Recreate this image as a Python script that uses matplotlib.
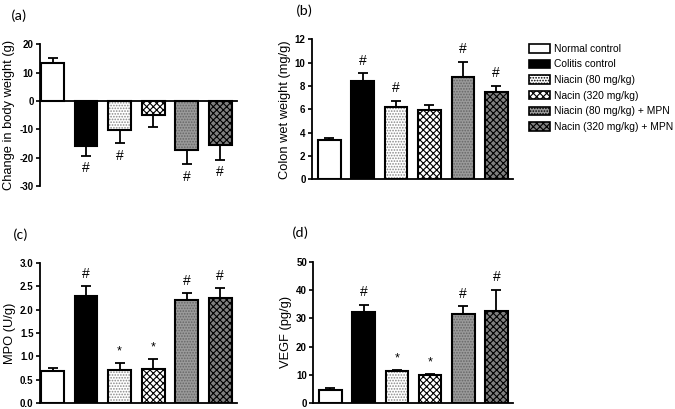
import matplotlib.pyplot as plt
from matplotlib.patches import Patch

plt.rcParams['font.family'] = ['Liberation Sans', 'DejaVu Sans']
plt.rcParams['hatch.linewidth'] = 0.8

groups = ["Normal control", "Colitis control", "Niacin (80 mg/kg)",
          "Nacin (320 mg/kg)", "Niacin (80 mg/kg) + MPN", "Nacin (320 mg/kg) + MPN"]

# (a) change in body weight
bw_mean = [13.3, -16.0, -10.4, -5.0, -17.4, -15.4]
bw_sem = [1.9, 3.3, 4.4, 4.2, 4.8, 5.3]
bw_mark = ["", "#", "#", "", "#", "#"]

# (b) colon wet weight
cw_mean = [3.4, 8.45, 6.2, 5.93, 8.8, 7.5]
cw_sem = [0.17, 0.63, 0.53, 0.46, 1.26, 0.5]
cw_mark = ["", "#", "#", "", "#", "#"]

# (c) MPO
mpo_mean = [0.69, 2.29, 0.71, 0.72, 2.2, 2.26]
mpo_sem = [0.05, 0.21, 0.15, 0.23, 0.15, 0.2]
mpo_mark = ["", "#", "*", "*", "#", "#"]

# (d) VEGF
vegf_mean = [4.75, 32.1, 11.2, 9.9, 31.7, 32.7]
vegf_sem = [0.55, 2.6, 0.6, 0.4, 2.6, 7.3]
vegf_mark = ["", "#", "*", "*", "#", "#"]

faces = ["white", "black", "white", "white", "#9a9a9a", "#808080"]
hatches = [None, None, "......", "xxxxx", "......", "xxxxx"]
hatch_cols = ["black", "black", "#888888", "black", "#666666", "black"]

fig = plt.figure(figsize=(6.75, 4.09), dpi=100)


def panel(rect, means, sems, marks, ylim, yticks, ylabel, letter, lx, xl, fmt):
    ax = fig.add_axes(rect)
    x = list(range(len(means)))
    for i in x:
        ax.bar(i, means[i], width=0.68, color=faces[i], edgecolor=hatch_cols[i],
               hatch=hatches[i], linewidth=0, zorder=2)
        ax.bar(i, means[i], width=0.68, color="none", edgecolor="black",
               linewidth=1.5, zorder=3)
        lo = [[0], [sems[i]]] if means[i] >= 0 else [[sems[i]], [0]]
        ax.errorbar(i, means[i], yerr=lo, color="black", capsize=3.5,
                    elinewidth=1.3, capthick=1.3, zorder=1)
        if marks[i]:
            span = ylim[1] - ylim[0]
            if means[i] >= 0:
                ax.text(i, means[i] + sems[i] + 0.04 * span, marks[i],
                        ha="center", va="bottom", fontsize=10 if marks[i] == "#" else 9)
            else:
                ax.text(i, means[i] - sems[i] - 0.04 * span, marks[i],
                        ha="center", va="top", fontsize=10)
    ax.set_xlim(xl, 5.5)
    ax.set_ylim(*ylim)
    ax.set_yticks(yticks)
    ax.set_yticklabels([fmt.format(t) for t in yticks], fontsize=7, fontweight="bold")
    ax.set_xticks([])
    for s in ["top", "right"]:
        ax.spines[s].set_visible(False)
    ax.spines["left"].set_linewidth(1.3)
    ax.spines["bottom"].set_linewidth(1.3)
    ax.spines["bottom"].set_position(("data", 0))
    ax.tick_params(axis="y", length=3, width=1.2, pad=1.5)
    ax.set_ylabel(ylabel, fontsize=9.3, labelpad=3)
    fig.text(lx, rect[1] + rect[3] + 0.06, letter,
             fontsize=11, family=["Carlito", "Liberation Sans", "DejaVu Sans"])
    return ax


panel([0.059, 0.545, 0.292, 0.347], bw_mean, bw_sem, bw_mark, (-30, 20),
      [-30, -20, -10, 0, 10, 20], "Change in body weight (g)", "(a)", 0.016, -0.38, "{:d}")
panel([0.462, 0.562, 0.298, 0.342], cw_mean, cw_sem, cw_mark, (0, 12),
      [0, 2, 4, 6, 8, 10, 12], "Colon wet weight (mg/g)", "(b)", 0.438, -0.52, "{:d}")
panel([0.059, 0.0147, 0.292, 0.342], mpo_mean, mpo_sem, mpo_mark, (0, 3.0),
      [0, 0.5, 1.0, 1.5, 2.0, 2.5, 3.0], "MPO (U/g)", "(c)", 0.019, -0.38, "{:.1f}")
panel([0.464, 0.0147, 0.296, 0.345], vegf_mean, vegf_sem, vegf_mark, (0, 50),
      [0, 10, 20, 30, 40, 50], "VEGF (pg/g)", "(d)", 0.433, -0.52, "{:d}")

handles = [Patch(facecolor=faces[i], edgecolor=hatch_cols[i] if hatches[i] else "black",
                 hatch=hatches[i], linewidth=1.2) for i in range(6)]
leg = fig.legend(handles, groups, loc="upper left", bbox_to_anchor=(0.778, 0.903),
                 frameon=False, handlelength=2.0, handleheight=0.9,
                 labelspacing=0.55, handletextpad=0.4, borderaxespad=0,
                 prop={"family": ["Liberation Sans", "DejaVu Sans"], "size": 7.4})
for p in leg.get_patches():
    p.set_edgecolor("black")

fig.savefig("out.png", dpi=100)
